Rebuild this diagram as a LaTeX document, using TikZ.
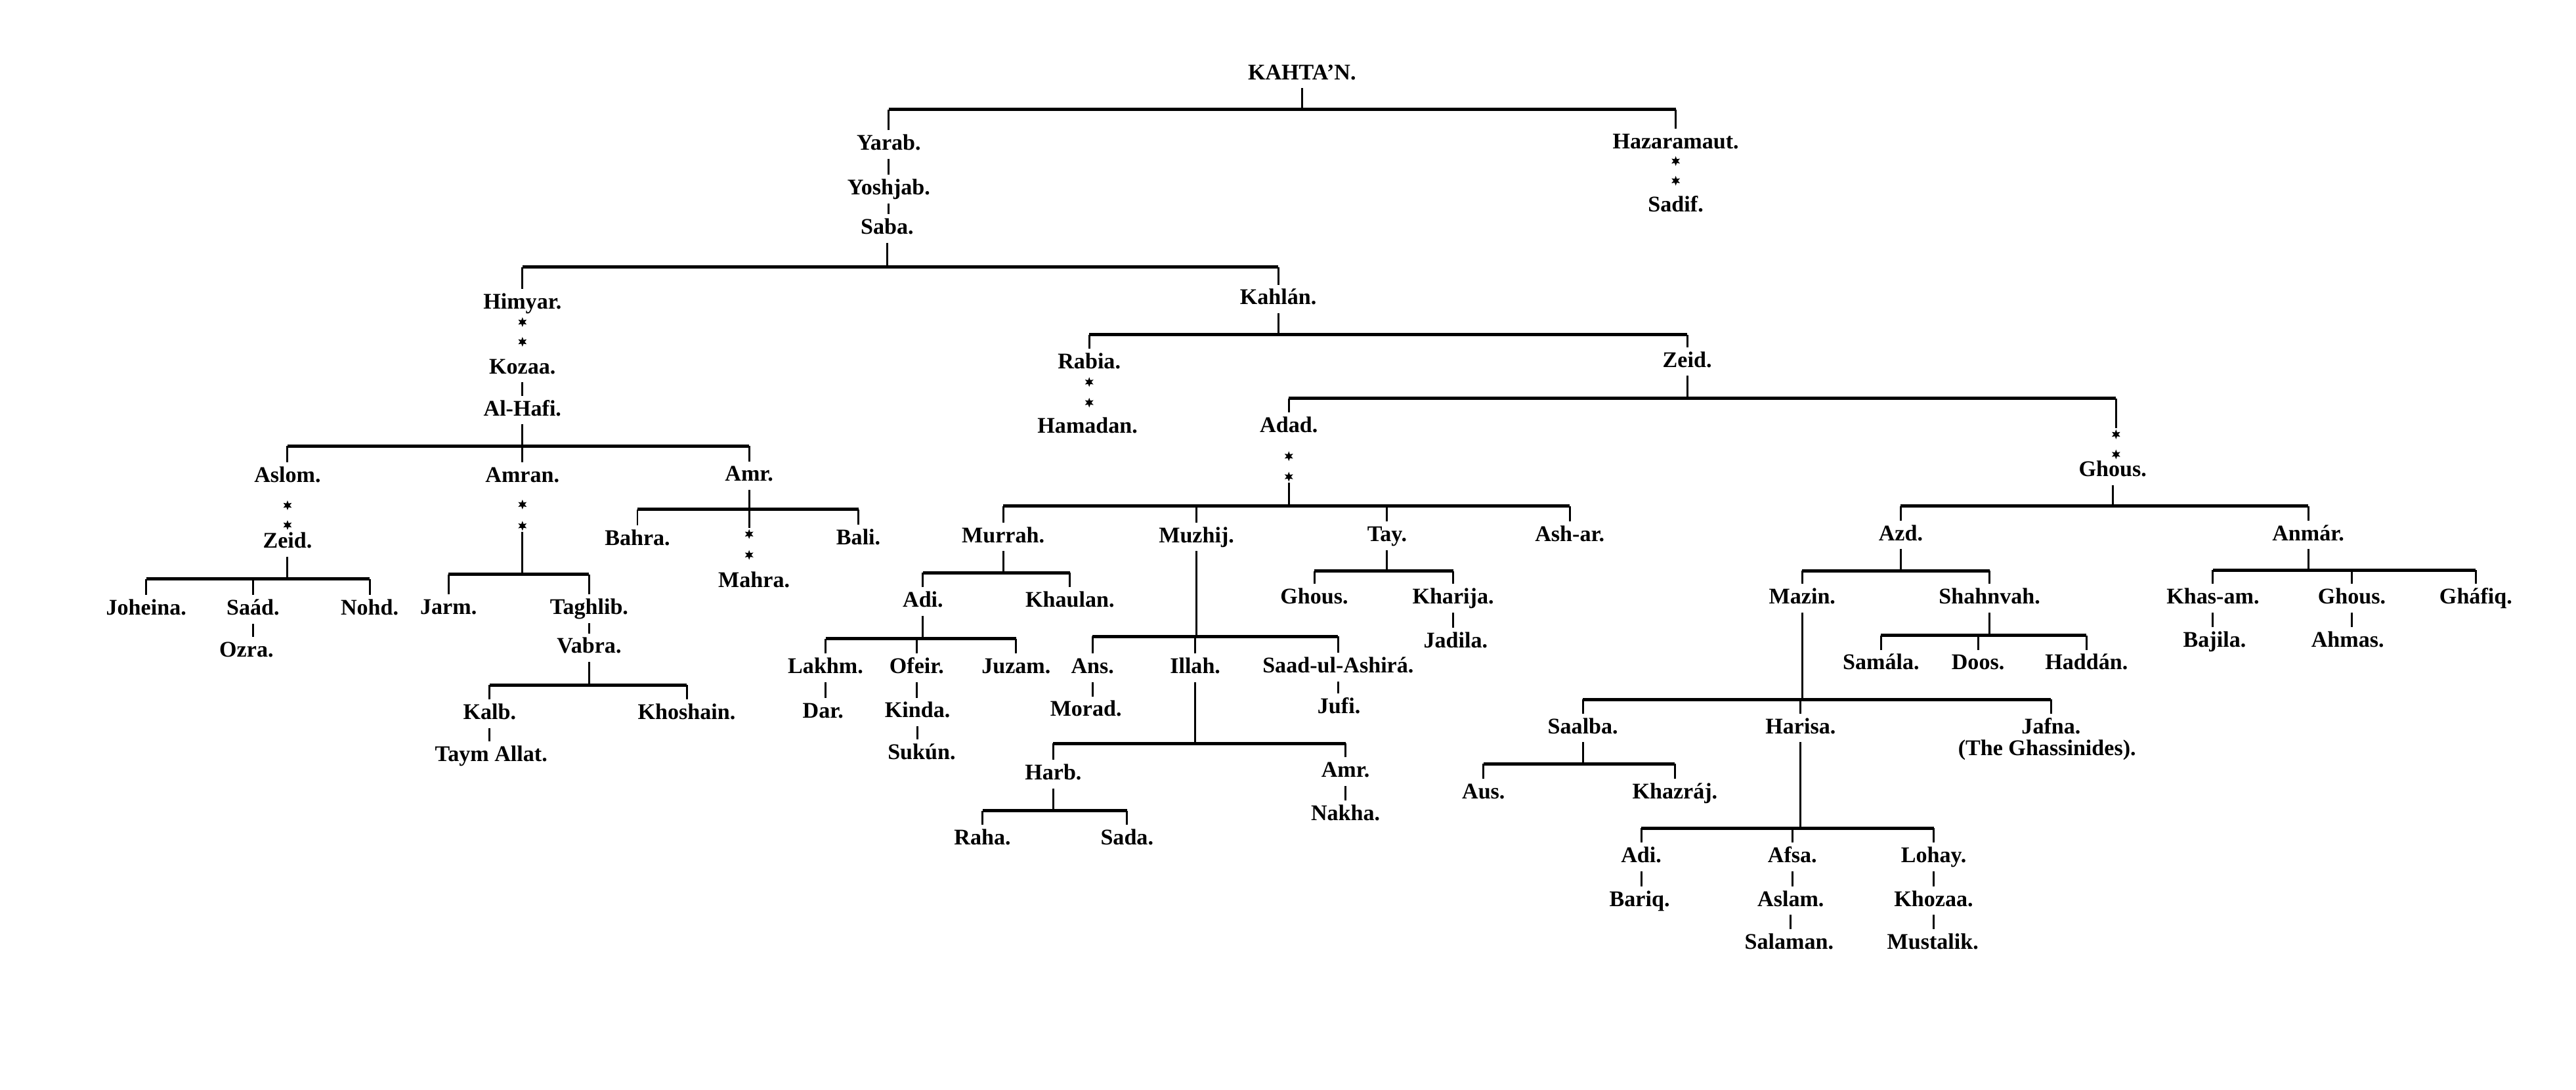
\documentclass[tikz,border=0pt]{standalone}
\usepackage{fontspec}
\setmainfont{Liberation Serif}
\usepackage{tikz}
\usetikzlibrary{positioning,shapes.geometric}

\tikzset{
  person/.style={font=\bfseries\fontsize{9.7}{11}\selectfont, inner sep=1.8pt, text height=6.6pt, text depth=1.8pt},
  astr/.style={star, star points=6, star point ratio=2.2, fill=black, inner sep=0pt, minimum size=4.2pt},
  barline/.style={line width=1.4pt},
  stemline/.style={line width=0.85pt}
}

\begin{document}
\begin{tikzpicture}[x=0.025026cm, y=-0.025026cm]

    \useasboundingbox (0,0) rectangle (1568,663);

                \node[person] (kahtan) at (792.5,45) {KAHTA’N.};
                \coordinate (b0) at (792.5,66.6);
                \node[person] (yarab) at (541,88) {Yarab.};
                \node[person] (hazaramaut) at (1020,87) {Hazaramaut.};
                \node[person] (yoshjab) at (541,115) {Yoshjab.};
                \node[person] (saba) at (540,139) {Saba.};
                \node[astr] (hzs1) at (1020,98) {};
                \node[astr] (hzs2) at (1020,110) {};
                \node[person] (sadif) at (1020,125.5) {Sadif.};

                \draw[barline] (yarab |- b0) -- (hazaramaut |- b0);
                \draw[stemline] (kahtan) -- (b0);
                \draw[stemline] (yarab) -- (yarab |- b0);
                \draw[stemline] (hazaramaut) -- (hazaramaut |- b0);
                \draw[stemline] (yarab) -- (yarab |- yoshjab.north);
                \draw[stemline] (yoshjab) -- (yoshjab |- saba.north);

                \coordinate (b1) at (540,162.5);
                \node[person] (himyar) at (318,184.5) {Himyar.};
                \node[person] (kahlan) at (778,182) {Kahlán.};
                \draw[barline] (himyar |- b1) -- (kahlan |- b1);
                \draw[stemline] (saba) -- (b1);
                \draw[stemline] (himyar) -- (himyar |- b1);
                \draw[stemline] (kahlan) -- (kahlan |- b1);

                \node[astr] (hms1) at (318,196) {};
                \node[astr] (hms2) at (318,208) {};
                \node[person] (kozaa) at (318,224) {Kozaa.};
                \node[person] (alhafi) at (318,249.6) {Al-Hafi.};
                \draw[stemline] (kozaa) -- (alhafi);

                \coordinate (b2) at (318,271.4);
                \node[person] (aslom) at (175,290) {Aslom.};
                \node[person] (amran) at (318,290) {Amran.};
                \node[person] (amr) at (456,289.5) {Amr.};
                \draw[barline] (aslom |- b2) -- (amr |- b2);
                \draw[stemline] (alhafi) -- (b2);
                \draw[stemline] (aslom) -- (aslom |- b2);
                \draw[stemline] (amran) -- (amran |- b2);
                \draw[stemline] (amr) -- (amr |- b2);

                \node[astr] (ass1) at (175,307.5) {};
                \node[astr] (ass2) at (175,319.5) {};
                \node[person] (zeida) at (175,330) {Zeid.};
                \coordinate (b3) at (175,352.4);
                \node[person] (joheina) at (89,370.8) {Joheina.};
                \node[person] (saad) at (154,370.8) {Saád.};
                \node[person] (nohd) at (225,370.8) {Nohd.};
                \node[person] (ozra) at (150,396.4) {Ozra.};
                \draw[barline] (joheina |- b3) -- (nohd |- b3);
                \draw[stemline] (zeida) -- (b3);
                \draw[stemline] (joheina) -- (joheina |- b3);
                \draw[stemline] (saad) -- (saad |- b3);
                \draw[stemline] (nohd) -- (nohd |- b3);
                \draw[stemline] (saad) -- (saad |- ozra.north);

                \node[astr] (ams1) at (318,307) {};
                \node[astr] (ams2) at (318,320) {};
                \coordinate (b4) at (318,349.5);
                \node[person] (jarm) at (273,370.5) {Jarm.};
                \node[person] (taghlib) at (358.6,370.5) {Taghlib.};
                \node[person] (vabra) at (358.6,394.2) {Vabra.};
                \draw[barline] (jarm |- b4) -- (taghlib |- b4);
                \draw[stemline] (ams2) -- (b4);
                \draw[stemline] (jarm) -- (jarm |- b4);
                \draw[stemline] (taghlib) -- (taghlib |- b4);
                \draw[stemline] (taghlib) -- (vabra);

                \coordinate (b5) at (358.6,416.8);
                \node[person] (kalb) at (298,434.4) {Kalb.};
                \node[person] (khoshain) at (418,434.4) {Khoshain.};
                \node[person] (taymallat) at (299,460) {Taym Allat.};
                \draw[barline] (kalb |- b5) -- (khoshain |- b5);
                \draw[stemline] (vabra) -- (b5);
                \draw[stemline] (kalb) -- (kalb |- b5);
                \draw[stemline] (khoshain) -- (khoshain |- b5);
                \draw[stemline] (kalb) -- (kalb |- taymallat.north);

                \coordinate (b6) at (456,310);
                \node[person] (bahra) at (388,328.4) {Bahra.};
                \node[astr] (mrs1) at (456,325) {};
                \node[astr] (mrs2) at (456,337.7) {};
                \node[person] (mahra) at (459,354) {Mahra.};
                \node[person] (bali) at (522.5,328) {Bali.};
                \draw[barline] (bahra |- b6) -- (bali |- b6);
                \draw[stemline] (amr) -- (b6);
                \draw[stemline] (bahra) -- (bahra |- b6);
                \draw[stemline] (mrs1) -- (mrs1 |- b6);
                \draw[stemline] (bali) -- (bali |- b6);

                \coordinate (b7) at (778,203.6);
                \node[person] (rabia) at (663,221) {Rabia.};
                \node[person] (zeidb) at (1027,220) {Zeid.};
                \node[astr] (rbs1) at (663,232.5) {};
                \node[astr] (rbs2) at (663,245) {};
                \node[person] (hamadan) at (662,260.2) {Hamadan.};
                \draw[barline] (rabia |- b7) -- (zeidb |- b7);
                \draw[stemline] (kahlan) -- (b7);
                \draw[stemline] (rabia) -- (rabia |- b7);
                \draw[stemline] (zeidb) -- (zeidb |- b7);

                \coordinate (b8) at (1027,242.5);
                \node[person] (adad) at (784.5,259.7) {Adad.};
                \node[astr] (ads1) at (784.5,277.6) {};
                \node[astr] (ads2) at (784.5,290.1) {};
                \node[astr] (ghs1) at (1288,264.3) {};
                \node[astr] (ghs2) at (1288,276.5) {};
                \node[person] (ghousa) at (1286,286.5) {Ghous.};
                \draw[barline] (adad |- b8) -- (ghs1 |- b8);
                \draw[stemline] (zeidb) -- (b8);
                \draw[stemline] (adad) -- (adad |- b8);
                \draw[stemline] (ghs1) -- (ghs1 |- b8);

                \coordinate (b9) at (784.5,308);
                \node[person] (murrah) at (610.6,326.7) {Murrah.};
                \node[person] (muzhij) at (728.3,326.7) {Muzhij.};
                \node[person] (tay) at (844.3,326) {Tay.};
                \node[person] (ashar) at (955.5,326) {Ash-ar.};
                \draw[barline] (murrah |- b9) -- (ashar |- b9);
                \draw[stemline] (ads2) -- (b9);
                \draw[stemline] (murrah) -- (murrah |- b9);
                \draw[stemline] (muzhij) -- (muzhij |- b9);
                \draw[stemline] (tay) -- (tay |- b9);
                \draw[stemline] (ashar) -- (ashar |- b9);

                \coordinate (b10) at (610.6,348.6);
                \node[person] (adia) at (561.8,366) {Adi.};
                \node[person] (khaulan) at (651.3,366) {Khaulan.};
                \draw[barline] (adia |- b10) -- (khaulan |- b10);
                \draw[stemline] (murrah) -- (b10);
                \draw[stemline] (adia) -- (adia |- b10);
                \draw[stemline] (khaulan) -- (khaulan |- b10);

                \coordinate (b11) at (561.8,388.7);
                \node[person] (lakhm) at (502.5,406.4) {Lakhm.};
                \node[person] (ofeir) at (558,406.4) {Ofeir.};
                \node[person] (juzam) at (618.5,406.4) {Juzam.};
                \node[person] (dar) at (501,433.4) {Dar.};
                \node[person] (kinda) at (558.5,433.3) {Kinda.};
                \node[person] (sukun) at (561,458.6) {Sukún.};
                \draw[barline] (lakhm |- b11) -- (juzam |- b11);
                \draw[stemline] (adia) -- (b11);
                \draw[stemline] (lakhm) -- (lakhm |- b11);
                \draw[stemline] (ofeir) -- (ofeir |- b11);
                \draw[stemline] (juzam) -- (juzam |- b11);
                \draw[stemline] (lakhm) -- (lakhm |- dar.north);
                \draw[stemline] (ofeir) -- (ofeir |- kinda.north);
                \draw[stemline] (kinda) -- (kinda |- sukun.north);

                \coordinate (b12) at (728.3,387.3);
                \node[person] (ans) at (665,406.4) {Ans.};
                \node[person] (illah) at (727.5,406.4) {Illah.};
                \node[person] (saadul) at (814.5,406) {Saad-ul-Ashirá.};
                \node[person] (morad) at (661,432.5) {Morad.};
                \node[person] (jufi) at (815,430.7) {Jufi.};
                \draw[barline] (ans |- b12) -- (saadul |- b12);
                \draw[stemline] (muzhij) -- (b12);
                \draw[stemline] (ans) -- (ans |- b12);
                \draw[stemline] (illah) -- (illah |- b12);
                \draw[stemline] (saadul) -- (saadul |- b12);
                \draw[stemline] (ans) -- (ans |- morad.north);
                \draw[stemline] (saadul) -- (saadul |- jufi.north);

                \coordinate (b13) at (727.5,452.4);
                \node[person] (harb) at (641.1,471) {Harb.};
                \node[person] (amrb) at (819,469.5) {Amr.};
                \node[person] (nakha) at (819,495.9) {Nakha.};
                \draw[barline] (harb |- b13) -- (amrb |- b13);
                \draw[stemline] (illah) -- (b13);
                \draw[stemline] (harb) -- (harb |- b13);
                \draw[stemline] (amrb) -- (amrb |- b13);
                \draw[stemline] (amrb) -- (nakha);

                \coordinate (b14) at (641.1,493.4);
                \node[person] (raha) at (598,510.7) {Raha.};
                \node[person] (sada) at (686,510.7) {Sada.};
                \draw[barline] (raha |- b14) -- (sada |- b14);
                \draw[stemline] (harb) -- (b14);
                \draw[stemline] (raha) -- (raha |- b14);
                \draw[stemline] (sada) -- (sada |- b14);

                \coordinate (b15) at (844.3,347.5);
                \node[person] (ghousb) at (800,364) {Ghous.};
                \node[person] (kharija) at (884.5,364) {Kharija.};
                \node[person] (jadila) at (886,390.8) {Jadila.};
                \draw[barline] (ghousb |- b15) -- (kharija |- b15);
                \draw[stemline] (tay) -- (b15);
                \draw[stemline] (ghousb) -- (ghousb |- b15);
                \draw[stemline] (kharija) -- (kharija |- b15);
                \draw[stemline] (kharija) -- (kharija |- jadila.north);

                \coordinate (b16) at (1286,308);
                \node[person] (azd) at (1157,325.5) {Azd.};
                \node[person] (anmar) at (1405,325.5) {Anmár.};
                \draw[barline] (azd |- b16) -- (anmar |- b16);
                \draw[stemline] (ghousa) -- (b16);
                \draw[stemline] (azd) -- (azd |- b16);
                \draw[stemline] (anmar) -- (anmar |- b16);

                \coordinate (b17) at (1157,347.3);
                \node[person] (mazin) at (1097,364) {Mazin.};
                \node[person] (shahnvah) at (1211,364) {Shahnvah.};
                \draw[barline] (mazin |- b17) -- (shahnvah |- b17);
                \draw[stemline] (azd) -- (b17);
                \draw[stemline] (mazin) -- (mazin |- b17);
                \draw[stemline] (shahnvah) -- (shahnvah |- b17);

                \coordinate (b18) at (1211,386.6);
                \node[person] (samala) at (1145,404.2) {Samála.};
                \node[person] (doos) at (1204,404.2) {Doos.};
                \node[person] (haddan) at (1270,404.2) {Haddán.};
                \draw[barline] (samala |- b18) -- (haddan |- b18);
                \draw[stemline] (shahnvah) -- (b18);
                \draw[stemline] (samala) -- (samala |- b18);
                \draw[stemline] (doos) -- (doos |- b18);
                \draw[stemline] (haddan) -- (haddan |- b18);

                \coordinate (b19) at (1097,425.7);
                \node[person] (saalba) at (963.5,443) {Saalba.};
                \node[person] (harisa) at (1096,443) {Harisa.};
                \node[person] (jafna) at (1248.5,443) {Jafna.};
                \node[person] (ghass) at (1246,456.5) {(The Ghassinides).};
                \draw[barline] (saalba |- b19) -- (jafna |- b19);
                \draw[stemline] (mazin) -- (b19);
                \draw[stemline] (saalba) -- (saalba |- b19);
                \draw[stemline] (harisa) -- (harisa |- b19);
                \draw[stemline] (jafna) -- (jafna |- b19);

                \coordinate (b20) at (963.5,464.9);
                \node[person] (aus) at (903,482.8) {Aus.};
                \node[person] (khazraj) at (1019.5,482.8) {Khazráj.};
                \draw[barline] (aus |- b20) -- (khazraj |- b20);
                \draw[stemline] (saalba) -- (b20);
                \draw[stemline] (aus) -- (aus |- b20);
                \draw[stemline] (khazraj) -- (khazraj |- b20);

                \coordinate (b21) at (1096,503.9);
                \node[person] (adib) at (999,521.5) {Adi.};
                \node[person] (afsa) at (1091,521.5) {Afsa.};
                \node[person] (lohay) at (1177,521.5) {Lohay.};
                \node[person] (bariq) at (998,548.1) {Bariq.};
                \node[person] (aslam) at (1090,548.1) {Aslam.};
                \node[person] (salaman) at (1089,574.1) {Salaman.};
                \node[person] (khozaa) at (1177,548.1) {Khozaa.};
                \node[person] (mustalik) at (1176.5,574.1) {Mustalik.};
                \draw[barline] (adib |- b21) -- (lohay |- b21);
                \draw[stemline] (harisa) -- (b21);
                \draw[stemline] (adib) -- (adib |- b21);
                \draw[stemline] (afsa) -- (afsa |- b21);
                \draw[stemline] (lohay) -- (lohay |- b21);
                \draw[stemline] (adib) -- (adib |- bariq.north);
                \draw[stemline] (afsa) -- (afsa |- aslam.north);
                \draw[stemline] (aslam) -- (aslam |- salaman.north);
                \draw[stemline] (lohay) -- (lohay |- khozaa.north);
                \draw[stemline] (khozaa) -- (khozaa |- mustalik.north);

                \coordinate (b22) at (1405,347);
                \node[person] (khasam) at (1347,364) {Khas-am.};
                \node[person] (ghousc) at (1431.5,364) {Ghous.};
                \node[person] (ghafiq) at (1507,364) {Gháfiq.};
                \node[person] (bajila) at (1348,390.4) {Bajila.};
                \node[person] (ahmas) at (1429,390.4) {Ahmas.};
                \draw[barline] (khasam |- b22) -- (ghafiq |- b22);
                \draw[stemline] (anmar) -- (b22);
                \draw[stemline] (khasam) -- (khasam |- b22);
                \draw[stemline] (ghousc) -- (ghousc |- b22);
                \draw[stemline] (ghafiq) -- (ghafiq |- b22);
                \draw[stemline] (khasam) -- (khasam |- bajila.north);
                \draw[stemline] (ghousc) -- (ghousc |- ahmas.north);

\end{tikzpicture}
\end{document}
